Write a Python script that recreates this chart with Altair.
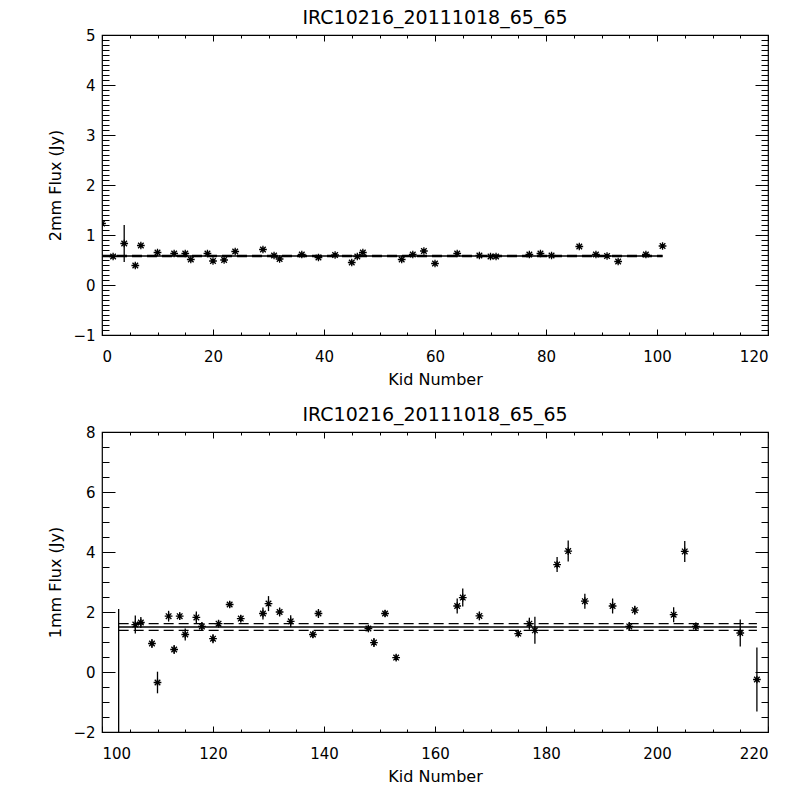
import altair as alt
import pandas as pd

title_text = "IRC10216_20111018_65_65"

top_kid = [0, 2, 4, 6, 7, 10, 13, 15, 16, 19, 20, 22, 24, 29, 31, 32, 36, 39, 42, 45,
           46, 47, 54, 56, 58, 60, 64, 68, 70, 71, 77, 79, 81, 86, 89, 91, 93, 98, 101]
top_flux = [1.23, 0.57, 0.83, 0.39, 0.79, 0.65, 0.63, 0.63, 0.51, 0.63,
            0.48, 0.50, 0.67, 0.71, 0.59, 0.52, 0.61, 0.55, 0.60, 0.45,
            0.57, 0.65, 0.51, 0.61, 0.68, 0.43, 0.63, 0.59, 0.57, 0.57,
            0.61, 0.63, 0.59, 0.77, 0.61, 0.58, 0.47, 0.61, 0.78]
top_err = [0.04, 0.04, 0.37, 0.04, 0.04, 0.04, 0.04, 0.04, 0.04, 0.04,
           0.04, 0.04, 0.04, 0.04, 0.04, 0.04, 0.04, 0.04, 0.04, 0.04,
           0.04, 0.04, 0.04, 0.04, 0.04, 0.04, 0.04, 0.04, 0.04, 0.04,
           0.04, 0.04, 0.04, 0.04, 0.04, 0.04, 0.04, 0.04, 0.04]
top_mean = [0.58]
top_sig = [0.012]
top_range = [0, 101]

bot_kid = [103, 106, 107, 109, 110, 112, 113, 114, 115, 117,
           118, 120, 121, 123, 125, 129, 130, 132, 134, 138,
           139, 148, 149, 151, 153, 164, 165, 168, 175, 177,
           178, 182, 184, 187, 192, 195, 196, 203, 205, 207,
           215, 218]
bot_flux = [-2.5, 1.58, 1.65, 0.95, -0.35, 1.86, 0.75, 1.86, 1.25, 1.82,
            1.52, 1.11, 1.61, 2.25, 1.78, 1.95, 2.28, 2.0, 1.69, 1.25,
            1.95, 1.45, 0.98, 1.95, 0.48, 2.2, 2.48, 1.87, 1.28, 1.61,
            1.39, 3.58, 4.03, 2.36, 2.2, 1.52, 2.06, 1.91, 4.02, 1.52,
            1.3, -0.25]
bot_err = [4.6, 0.3, 0.18, 0.15, 0.36, 0.18, 0.15, 0.12, 0.2, 0.2,
           0.15, 0.15, 0.12, 0.12, 0.12, 0.2, 0.25, 0.15, 0.2, 0.12,
           0.15, 0.12, 0.15, 0.12, 0.1, 0.25, 0.3, 0.15, 0.1, 0.2,
           0.45, 0.25, 0.35, 0.25, 0.25, 0.15, 0.15, 0.25, 0.35, 0.12,
           0.45, 1.07]
bot_mean = [1.5]
bot_sig = [0.11]
bot_range = [103, 218]

ASTERISK = "M-1,0L1,0M0,-1L0,1M-0.72,-0.72L0.72,0.72M-0.72,0.72L0.72,-0.72"
FONT = "DejaVu Sans"
W, H = 666, 300


def tick_axis(orient, values, size):
    return alt.Axis(orient=orient, values=values, tickSize=size, offset=-size,
                    labels=False, domain=False, grid=False, title=None,
                    tickColor="black", tickWidth=1)


def panel(kid, flux, err, mean, sig, rng, xdom, ydom, ymaj, ymin_step, ytitle):
    df = pd.DataFrame({"kid": kid, "flux": flux, "err": err})
    df["lo"] = df["flux"] - df["err"]
    df["hi"] = df["flux"] + df["err"]
    ml = pd.DataFrame({"x0": [rng[0]], "x1": [rng[1]], "m": mean,
                       "lo": [mean[0] - sig[0]], "hi": [mean[0] + sig[0]]})
    xs = alt.Scale(domain=xdom, nice=False, zero=False)
    ys = alt.Scale(domain=ydom, nice=False, zero=False)
    xmaj = list(range(xdom[0], xdom[1] + 1, 20))
    xmin = [v for v in range(xdom[0], xdom[1] + 1, 5) if v not in xmaj]
    nmin = int(round((ydom[1] - ydom[0]) / ymin_step))
    ymin = [round(ydom[0] + i * ymin_step, 3) for i in range(nmin + 1)]
    ymin = [v for v in ymin if not any(abs(v - m) < 1e-6 for m in ymaj)]

    xlab = alt.Axis(values=xmaj, title="Kid Number", grid=False, ticks=False,
                    domain=False, labelPadding=14, titlePadding=7)
    ylab = alt.Axis(values=ymaj, title=ytitle, grid=False, ticks=False,
                    domain=False, labelPadding=7, titlePadding=9)

    base = alt.Chart(df)
    mchart = alt.Chart(ml)
    bars = base.mark_rule(color="black", strokeWidth=1.3, clip=True).encode(
        x=alt.X("kid:Q", scale=xs, axis=xlab),
        y=alt.Y("lo:Q", scale=ys, axis=ylab),
        y2="hi:Q")
    solid = mchart.mark_rule(color="black", strokeWidth=1.3).encode(
        x=alt.X("x0:Q", scale=xs, axis=tick_axis("bottom", xmaj, 6)), x2="x1:Q",
        y=alt.Y("m:Q", scale=ys, axis=tick_axis("left", ymaj, 13)))
    dlo = mchart.mark_rule(color="black", strokeWidth=1.3, strokeDash=[10, 5]).encode(
        x=alt.X("x0:Q", scale=xs, axis=tick_axis("bottom", xmin, 3)), x2="x1:Q",
        y=alt.Y("lo:Q", scale=ys, axis=tick_axis("left", ymin, 7)))
    dhi = mchart.mark_rule(color="black", strokeWidth=1.3, strokeDash=[10, 5]).encode(
        x=alt.X("x0:Q", scale=xs, axis=tick_axis("top", xmaj, 6)), x2="x1:Q",
        y=alt.Y("hi:Q", scale=ys, axis=tick_axis("right", ymaj, 13)))
    pts = base.mark_point(shape=ASTERISK, filled=False, color="black", size=60,
                          strokeWidth=1.3, opacity=1, clip=True).encode(
        x=alt.X("kid:Q", scale=xs, axis=tick_axis("top", xmin, 3)),
        y=alt.Y("flux:Q", scale=ys, axis=tick_axis("right", ymin, 7)))
    return alt.layer(bars, solid, dlo, dhi, pts).resolve_axis(
        x="independent", y="independent").properties(
        width=W, height=H,
        title=alt.TitleParams(title_text, fontSize=19, font=FONT, fontWeight="normal",
                              color="black", offset=0))


top = panel(top_kid, top_flux, top_err, top_mean, top_sig, top_range,
            [0, 120], [-1, 5], [-1, 0, 1, 2, 3, 4, 5], 0.1, "2mm Flux (Jy)")
bot = panel(bot_kid, bot_flux, bot_err, bot_mean, bot_sig, bot_range,
            [100, 220], [-2, 8], [-2, 0, 2, 4, 6, 8], 0.5, "1mm Flux (Jy)")

chart = alt.vconcat(top, bot, spacing=17).properties(
    background="white",
    padding={"left": 39, "top": 0, "right": 5, "bottom": 5}
).configure_view(
    stroke="black", strokeWidth=1.2
).configure_axis(
    labelFont=FONT, titleFont=FONT, labelFontSize=15, titleFontSize=16,
    titleFontWeight="normal", labelColor="black", titleColor="black",
    domainColor="black", tickColor="black"
)

chart.save("out.html", embed_options={"renderer": "svg", "actions": False})
